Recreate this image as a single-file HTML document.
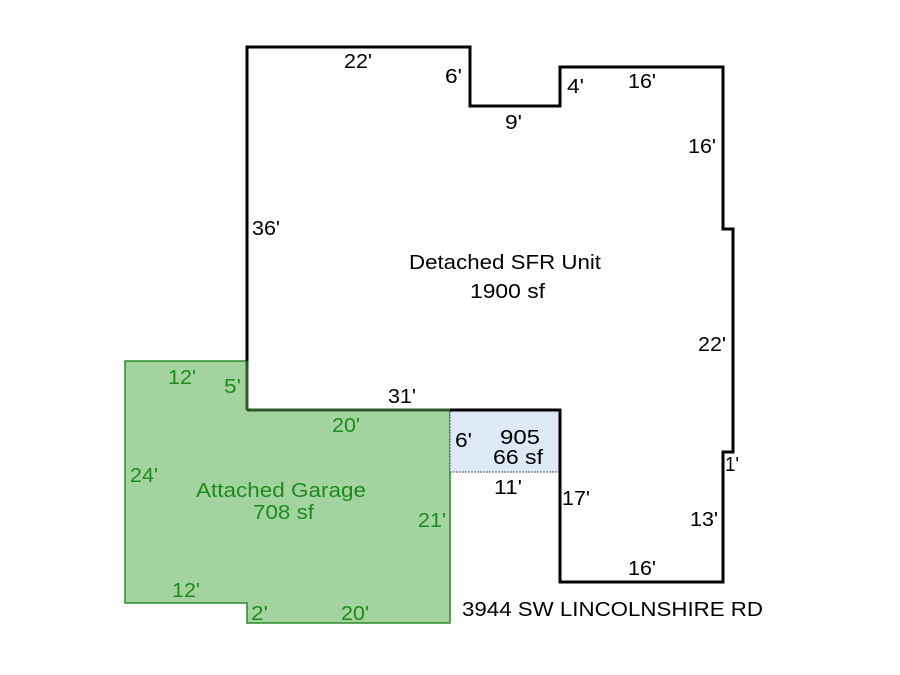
<!DOCTYPE html>
<html><head><style>html,body{margin:0;padding:0;background:#fff}svg{display:block}</style></head><body>
<svg width="900" height="675" viewBox="0 0 900 675" xmlns="http://www.w3.org/2000/svg" font-family="Liberation Sans, Arial, sans-serif" font-size="20">
<polygon points="125,361 247,361 247,410 450,410 450,623 247,623 247,603 125,603" fill="#a3d49f" stroke="#2b8a2b" stroke-width="1.5"/>
<rect x="450" y="411" width="110" height="61" fill="#dde9f5"/>
<line x1="450" y1="472" x2="560" y2="472" stroke="#555" stroke-width="1" stroke-dasharray="2,1"/>
<line x1="450" y1="411" x2="450" y2="472" stroke="#555" stroke-width="1" stroke-dasharray="2,1"/>
<polyline points="247,410 247,47 470,47 470,106 560,106 560,67 723,67 723,229 733,229 733,452 723,452 723,582 560,582 560,410 247,410" fill="none" stroke="#000" stroke-width="3" stroke-linejoin="miter"/>
<line x1="247" y1="361" x2="247" y2="410" stroke="#2b5a2b" stroke-width="3"/>
<line x1="247" y1="410" x2="450" y2="410" stroke="#2b5a2b" stroke-width="3"/>
<g fill="#000">
<text x="344" y="68" textLength="28" lengthAdjust="spacingAndGlyphs">22'</text>
<text x="445" y="83" textLength="17" lengthAdjust="spacingAndGlyphs">6'</text>
<text x="505" y="129" textLength="17" lengthAdjust="spacingAndGlyphs">9'</text>
<text x="567" y="93" textLength="17" lengthAdjust="spacingAndGlyphs">4'</text>
<text x="628" y="88" textLength="28" lengthAdjust="spacingAndGlyphs">16'</text>
<text x="688" y="153" textLength="28" lengthAdjust="spacingAndGlyphs">16'</text>
<text x="252" y="235" textLength="28" lengthAdjust="spacingAndGlyphs">36'</text>
<text x="698" y="351" textLength="28" lengthAdjust="spacingAndGlyphs">22'</text>
<text x="725" y="471" textLength="14" lengthAdjust="spacingAndGlyphs">1'</text>
<text x="690" y="526" textLength="28" lengthAdjust="spacingAndGlyphs">13'</text>
<text x="628" y="575" textLength="28" lengthAdjust="spacingAndGlyphs">16'</text>
<text x="562" y="505" textLength="28" lengthAdjust="spacingAndGlyphs">17'</text>
<text x="388" y="403" textLength="28" lengthAdjust="spacingAndGlyphs">31'</text>
<text x="494" y="494" textLength="28" lengthAdjust="spacingAndGlyphs">11'</text>
<text x="455" y="447" textLength="17" lengthAdjust="spacingAndGlyphs">6'</text>
<text x="500" y="444" textLength="40" lengthAdjust="spacingAndGlyphs">905</text>
<text x="493" y="464" textLength="50" lengthAdjust="spacingAndGlyphs">66 sf</text>
<text x="409" y="269" textLength="192" lengthAdjust="spacingAndGlyphs">Detached SFR Unit</text>
<text x="470" y="298" textLength="75" lengthAdjust="spacingAndGlyphs">1900 sf</text>
<text x="462" y="616" textLength="301" lengthAdjust="spacingAndGlyphs">3944 SW LINCOLNSHIRE RD</text>
</g>
<g fill="#1e8a1e">
<text x="168" y="384" textLength="28" lengthAdjust="spacingAndGlyphs">12'</text>
<text x="224" y="393" textLength="17" lengthAdjust="spacingAndGlyphs">5'</text>
<text x="130" y="482" textLength="28" lengthAdjust="spacingAndGlyphs">24'</text>
<text x="332" y="432" textLength="28" lengthAdjust="spacingAndGlyphs">20'</text>
<text x="196" y="497" textLength="170" lengthAdjust="spacingAndGlyphs">Attached Garage</text>
<text x="253" y="519" textLength="61" lengthAdjust="spacingAndGlyphs">708 sf</text>
<text x="418" y="527" textLength="28" lengthAdjust="spacingAndGlyphs">21'</text>
<text x="172" y="597" textLength="28" lengthAdjust="spacingAndGlyphs">12'</text>
<text x="251" y="620" textLength="17" lengthAdjust="spacingAndGlyphs">2'</text>
<text x="341" y="620" textLength="28" lengthAdjust="spacingAndGlyphs">20'</text>
</g>
</svg>
</body></html>
